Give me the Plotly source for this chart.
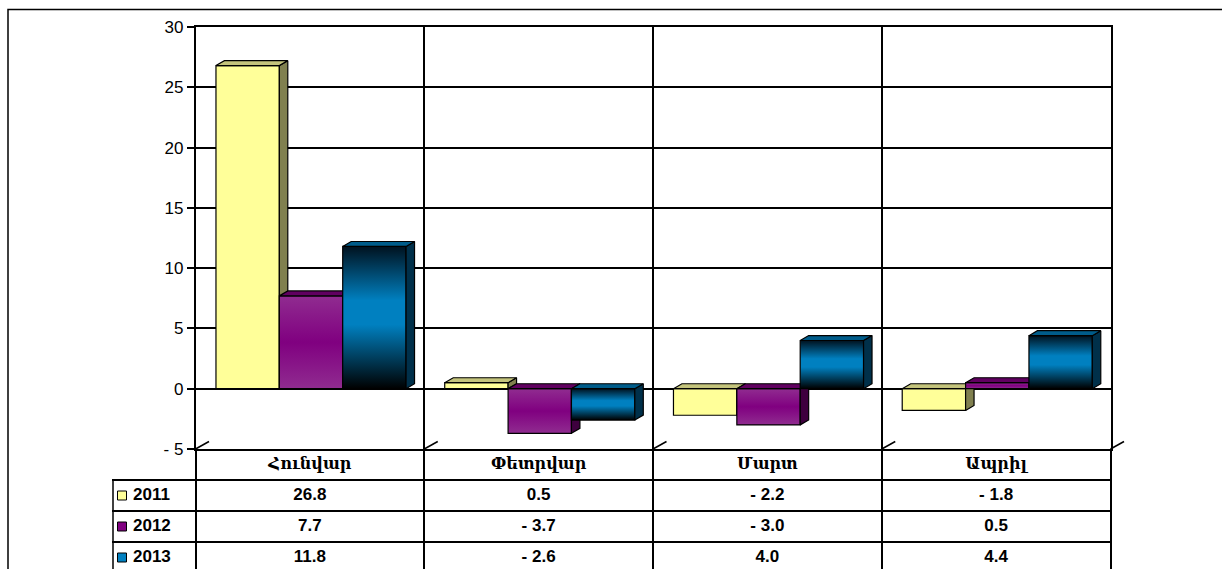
import plotly.graph_objects as go

# ---------------- data ----------------
months = ["Հունվար", "Փետրվար", "Մարտ", "Ապրիլ"]
years = ["2011", "2012", "2013"]
v2011 = [26.8, 0.5, -2.2, -1.8]
v2012 = [7.7, -3.7, -3.0, 0.5]
v2013 = [11.8, -2.6, 4.0, 4.4]
y_ticks = [-5, 0, 5, 10, 15, 20, 25, 30]

series = [v2011, v2012, v2013]

# ---------------- styles ----------------
W_PX, H_PX = 1222, 569
PX_L, PX_R = 195.5, 1110.5          # main plot area (px)
PX_T, PX_B = 27.0, 449.0
UNIT_X = (PX_R - PX_L) / 4.0        # px per category

def u(px):
    return (px - PX_L) / UNIT_X - 0.5

BAR_W = 0.277
SHIFT = 0.005
DX = 0.037      # 3D depth (x, data units)
DY = 0.41       # 3D depth (y, data units)

styles = [
    dict(flat="#FFFF99", grad=None, side="#80804F", top="#C4C47C", key="#FFFF99"),
    dict(flat=None, grad=[[0, "#902C90"], [0.5, "#800080"], [1, "#902C90"]],
         side="#3E003E", top="#600060", key="#800080"),
    dict(flat=None, grad=[[0, "#000000"], [0.45, "#0080C0"], [0.62, "#0080C0"], [1, "#00121F"]],
         side="#00304A", top="#005C8A", key="#0080C0"),
]
EDGE = dict(color="black", width=1.2)

fig = go.Figure()

def poly_trace(xs, ys, **kw):
    return go.Scatter(x=xs, y=ys, mode="lines", fill="toself", line=EDGE,
                      hoverinfo="skip", showlegend=False, **kw)

for i, vals in enumerate(series):
    st = styles[i]
    off = (i - 1) * BAR_W + SHIFT
    side_x, side_y, top_x, top_y, fr_x, fr_y = [], [], [], [], [], []
    for j, v in enumerate(vals):
        xl = j + off - BAR_W / 2
        xr = xl + BAR_W
        t = max(v, 0)
        fx = [xl, xr, xr, xl, xl]
        fy = [0, 0, v, v, 0]
        if st["grad"] is None:
            fr_x += fx + [None]
            fr_y += fy + [None]
        else:
            fig.add_trace(poly_trace(fx, fy, fillgradient=dict(type="vertical", colorscale=st["grad"])))
        side_x += [xr, xr, xr + DX, xr + DX, xr, None]
        side_y += [0, v, v + DY, DY, 0, None]
        top_x += [xl, xr, xr + DX, xl + DX, xl, None]
        top_y += [t, t, t + DY, t + DY, t, None]
    if fr_x:
        fig.add_trace(poly_trace(fr_x, fr_y, fillcolor=st["flat"]))
    fig.add_trace(poly_trace(side_x, side_y, fillcolor=st["side"]))
    fig.add_trace(poly_trace(top_x, top_y, fillcolor=st["top"]))

# ---------------- data table ----------------
TX0_PX, TX1_PX = 112.0, 1112.0
ROW_PX = 31.0
t_bottom = -0.5 + (H_PX - PX_B) / ROW_PX

def fmt(v):
    return f"- {abs(v):.1f}" if v < 0 else f"{v:.1f}"

cols = list(range(len(months)))
fig.add_trace(go.Scatter(
    x=cols, y=[0] * len(months), text=months, mode="text", xaxis="x2", yaxis="y2",
    textfont=dict(family="DejaVu Serif", size=16, color="black", weight=700),
    hoverinfo="skip", showlegend=False, cliponaxis=False))
for i, vals in enumerate(series):
    fig.add_trace(go.Scatter(
        x=cols, y=[i + 1] * len(vals), text=[fmt(v) for v in vals], mode="text",
        xaxis="x2", yaxis="y2",
        textfont=dict(family="Arial, Liberation Sans", size=17, color="black", weight=700),
        hoverinfo="skip", showlegend=False, cliponaxis=False))
    fig.add_trace(go.Scatter(
        x=[u(122)], y=[i + 1], mode="markers", xaxis="x2", yaxis="y2",
        marker=dict(symbol="square", size=9, color=styles[i]["key"], line=dict(color="black", width=1)),
        hoverinfo="skip", showlegend=False, cliponaxis=False))
    fig.add_trace(go.Scatter(
        x=[u(133)], y=[i + 1], text=[years[i]], mode="text", textposition="middle right",
        xaxis="x2", yaxis="y2",
        textfont=dict(family="Arial, Liberation Sans", size=17, color="black", weight=700),
        hoverinfo="skip", showlegend=False, cliponaxis=False))

# ---------------- layout ----------------
shapes = [
    # outer chart border
    dict(type="rect", xref="paper", yref="paper", x0=8 / W_PX, x1=1.05, y0=-0.05,
         y1=1 - 9.5 / H_PX, line=dict(color="black", width=1.5), layer="below"),
    # left border of legend column in the table
    dict(type="line", xref="x2", yref="y2", x0=u(113), x1=u(113), y0=0.5, y1=t_bottom,
         line=dict(color="black", width=1.5)),
]
# floor depth lines
for b in [0, 1, 2, 3, 4]:
    shapes.append(dict(type="line", xref="x domain", yref="y domain",
                       x0=b / 4, x1=b / 4 + 13.5 / (PX_R - PX_L),
                       y0=0, y1=7.5 / (PX_B - PX_T), line=dict(color="black", width=1.5)))

fig.update_layout(
    width=W_PX, height=H_PX, autosize=False,
    margin=dict(l=0, r=0, t=0, b=0, pad=0),
    paper_bgcolor="white", plot_bgcolor="rgba(0,0,0,0)",
    showlegend=False,
    shapes=shapes,
    xaxis=dict(domain=[PX_L / W_PX, PX_R / W_PX], range=[-0.5, 3.5],
               tickvals=[0.5, 1.5, 2.5], showticklabels=False, ticks="",
               showgrid=True, gridcolor="black", gridwidth=1.5, zeroline=False, automargin=False,
               showline=True, linecolor="black", linewidth=1.5, mirror=True, fixedrange=True),
    yaxis=dict(domain=[1 - PX_B / H_PX, 1 - PX_T / H_PX], range=[-5, 30],
               tickvals=y_ticks, ticktext=[("- " + str(abs(t))) if t < 0 else str(t) for t in y_ticks],
               ticks="outside", ticklen=7, tickwidth=1.5, tickcolor="black", automargin=False,
               tickfont=dict(family="Arial, Liberation Sans", size=17, color="black"),
               showgrid=True, gridcolor="black", gridwidth=1.5, zeroline=False,
               showline=True, linecolor="black", linewidth=1.5, mirror=True, fixedrange=True),
    xaxis2=dict(domain=[TX0_PX / W_PX, TX1_PX / W_PX], range=[u(TX0_PX), u(TX1_PX)],
                anchor="y2", tickvals=[-0.5, 0.5, 1.5, 2.5, 3.5], showticklabels=False, ticks="",
                showgrid=True, gridcolor="black", gridwidth=1.5, zeroline=False, automargin=False,
                showline=False, fixedrange=True),
    yaxis2=dict(domain=[0, (H_PX - PX_B) / H_PX], range=[t_bottom, -0.5], anchor="x2",
                tickvals=[0.5, 1.5, 2.5], showticklabels=False, ticks="", automargin=False,
                showgrid=True, gridcolor="black", gridwidth=1.5, zeroline=False,
                showline=False, fixedrange=True),
)

fig.write_html(
    "out.html",
    config={"displayModeBar": False, "responsive": False},
    post_script="document.body.style.margin='0';document.body.style.overflow='hidden';",
)
